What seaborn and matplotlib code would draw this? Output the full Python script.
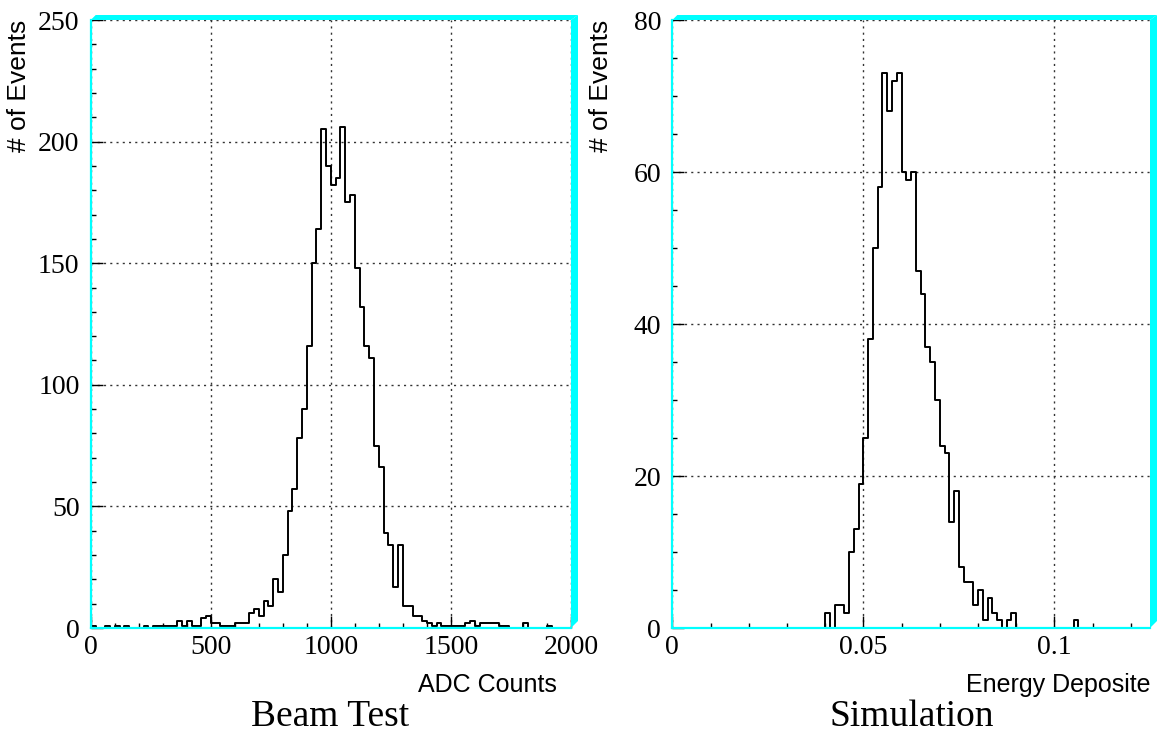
import numpy as np
import pandas as pd
import matplotlib
matplotlib.use("Agg")
import matplotlib.pyplot as plt
import seaborn as sns
from matplotlib.patches import Polygon
from matplotlib.ticker import MultipleLocator, FixedLocator

# ---------------- data ----------------
adc_range = (0, 2000)          # 100 bins of 20 ADC counts
adc_counts = [
    1, 0, 0, 1, 0, 1, 0, 1, 0, 0,
    0, 1, 0, 1, 1, 1, 1, 1, 3, 1,
    3, 1, 1, 4, 5, 2, 2, 1, 1, 1,
    2, 2, 2, 6, 8, 5, 11, 9, 20, 15,
    30, 48, 57, 78, 90, 116, 150, 164, 205, 190,
    182, 185, 206, 175, 178, 148, 132, 116, 111, 75,
    66, 39, 34, 17, 34, 9, 9, 5, 5, 3,
    2, 1, 2, 1, 1, 1, 1, 1, 2, 3,
    1, 2, 2, 2, 2, 1, 1, 0, 0, 0,
    2, 0, 0, 0, 0, 1, 0, 0, 0, 0,
]

edep_range = (0, 0.125)        # 100 bins of 0.00125
edep_counts = [
    0, 0, 0, 0, 0, 0, 0, 0, 0, 0,
    0, 0, 0, 0, 0, 0, 0, 0, 0, 0,
    0, 0, 0, 0, 0, 0, 0, 0, 0, 0,
    0, 0, 2, 0, 3, 3, 2, 10, 13, 19,
    25, 38, 50, 58, 73, 68, 72, 73, 60, 59,
    60, 47, 44, 37, 35, 30, 24, 23, 14, 18,
    8, 6, 6, 3, 5, 1, 4, 2, 1, 0,
    1, 2, 0, 0, 0, 0, 0, 0, 0, 0,
    0, 0, 0, 0, 1, 0, 0, 0, 0, 0,
    0, 0, 0, 0, 0, 0, 0, 0, 0, 0,
]

left_xticks = [0, 500, 1000, 1500, 2000]
left_xticklabels = ["0", "500", "1000", "1500", "2000"]
left_yticks = [0, 50, 100, 150, 200, 250]
right_xticks = [0, 0.05, 0.1]
right_xticklabels = ["0", "0.05", "0.1"]
right_yticks = [0, 20, 40, 60, 80]

# ---------------- style ----------------
sns.set_theme(style="white")
plt.rcParams["font.family"] = ["Liberation Serif", "DejaVu Serif"]
plt.rcParams["text.color"] = "black"
plt.rcParams["axes.labelcolor"] = "black"
plt.rcParams["xtick.color"] = "black"
plt.rcParams["ytick.color"] = "black"
SANS = ["Liberation Sans", "DejaVu Sans"]
CYAN = "#00FFFF"

W, H = 1161, 733
fig = plt.figure(figsize=(W / 100, H / 100), dpi=100)
fig.patch.set_facecolor("white")


def px_axes(x0, x1, ytop, ybot):
    return fig.add_axes([x0 / W, 1 - ybot / H, (x1 - x0) / W, (ybot - ytop) / H])


def fpt(x, y):
    return (x / W, 1 - y / H)


def frame_bands(x0, x1, ytop, ybot, t=5, r=7):
    top = Polygon([fpt(x0, ytop), fpt(x1, ytop), fpt(x1 + r, ytop - t), fpt(x0 + t, ytop - t)],
                  closed=True, transform=fig.transFigure, facecolor=CYAN, edgecolor="none")
    right = Polygon([fpt(x1, ytop), fpt(x1 + r, ytop - t), fpt(x1 + r, ybot - r), fpt(x1, ybot)],
                    closed=True, transform=fig.transFigure, facecolor=CYAN, edgecolor="none")
    fig.patches.extend([top, right])


def style_axes(ax, xlim, ylim, xticks, xticklabels, yticks, xminor, yminor):
    ax.set_xlim(*xlim)
    ax.set_ylim(*ylim)
    ax.xaxis.set_major_locator(FixedLocator(xticks))
    ax.set_xticklabels(xticklabels)
    ax.yaxis.set_major_locator(FixedLocator(yticks))
    ax.xaxis.set_minor_locator(MultipleLocator(xminor))
    ax.yaxis.set_minor_locator(MultipleLocator(yminor))
    ax.set_xlabel("")
    ax.set_ylabel("")
    ax.set_facecolor("white")
    ax.grid(True, which="major", color="#333333", linestyle=(0, (1.5, 3.0)), linewidth=1.0, zorder=4)
    ax.grid(False, which="minor")
    for s in ["top", "right"]:
        ax.spines[s].set_visible(False)
    for s in ["left", "bottom"]:
        ax.spines[s].set_color(CYAN)
        ax.spines[s].set_linewidth(1.6)
        ax.spines[s].set_zorder(3)
    ax.tick_params(which="major", direction="in", length=12 * 0.72, width=1.0, color="black",
                   labelsize=20, top=False, right=False, bottom=True, left=True, labelcolor="black")
    ax.tick_params(which="minor", direction="in", length=5 * 0.72, width=1.0, color="black",
                   top=False, right=False, bottom=True, left=True)
    ax.tick_params(axis="x", which="major", pad=5)
    ax.tick_params(axis="y", which="major", pad=8)


# ---------------- left: Beam Test ----------------
L = (90.7, 571.0, 20.0, 628.0)
ax1 = px_axes(*L)
adc_w = (adc_range[1] - adc_range[0]) / len(adc_counts)
adc_df = pd.DataFrame({"adc": adc_range[0] + adc_w * (np.arange(len(adc_counts)) + 0.5),
                       "n": adc_counts})
sns.histplot(data=adc_df, x="adc", weights="n", bins=len(adc_counts), binrange=adc_range,
             element="step", fill=False, color="black", linewidth=1.4, ax=ax1)
style_axes(ax1, adc_range, (0, 250), left_xticks, left_xticklabels, left_yticks, 100, 10)
frame_bands(*L)

# ---------------- right: Simulation ----------------
R = (672.3, 1150.0, 20.0, 628.0)
ax2 = px_axes(*R)
edep_w = (edep_range[1] - edep_range[0]) / len(edep_counts)
edep_df = pd.DataFrame({"edep": edep_range[0] + edep_w * (np.arange(len(edep_counts)) + 0.5),
                        "n": edep_counts})
sns.histplot(data=edep_df, x="edep", weights="n", bins=len(edep_counts), binrange=edep_range,
             element="step", fill=False, color="black", linewidth=1.4, ax=ax2)
style_axes(ax2, edep_range, (0, 80), right_xticks, right_xticklabels, right_yticks, 0.01, 5)
frame_bands(*R)

# ---------------- texts ----------------
fig.text(19 / W, 1 - 20 / H, "# of Events", rotation=90, ha="center", va="top",
         family=SANS, fontsize=19, color="black")
fig.text(601 / W, 1 - 20 / H, "# of Events", rotation=90, ha="center", va="top",
         family=SANS, fontsize=19, color="black")
fig.text(557 / W, 1 - 685 / H, "ADC Counts", ha="right", va="center", family=SANS,
         fontsize=18, color="black")
fig.text(1150 / W, 1 - 685 / H, "Energy Deposite", ha="right", va="center", family=SANS,
         fontsize=18, color="black")
fig.text(330 / W, 1 - 717 / H, "Beam Test", ha="center", va="center", fontsize=27, color="black")
fig.text(912 / W, 1 - 717 / H, "Simulation", ha="center", va="center", fontsize=27, color="black")

fig.savefig("out.png", dpi=100)
